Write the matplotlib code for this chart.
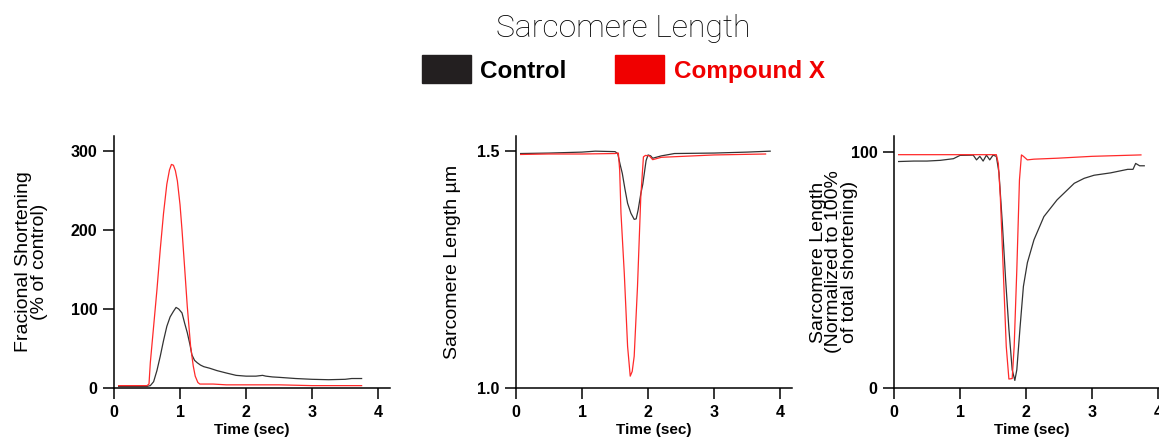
import matplotlib
matplotlib.use("Agg")
import matplotlib.pyplot as plt
from matplotlib.patches import Rectangle

plt.rcParams["font.family"] = ["Liberation Sans", "DejaVu Sans"]

# ───── DATA ─────
# panel 1: fractional shortening (% of control)
fs_ctrl_t = [0.07, 0.3, 0.5, 0.55, 0.6, 0.65, 0.7, 0.75, 0.8, 0.85, 0.9, 0.94, 0.98,
             1.03, 1.07, 1.11, 1.15, 1.18, 1.22, 1.26, 1.31, 1.36, 1.45, 1.56, 1.7,
             1.85, 2.0, 2.15, 2.25, 2.3, 2.4, 2.5, 2.75, 3.0, 3.25, 3.5, 3.6, 3.75]
fs_ctrl_v = [2, 2, 2, 3, 8, 22, 40, 60, 78, 90, 97, 102, 100,
             95, 82, 70, 55, 42, 35, 32, 29, 27, 25, 22, 19,
             16, 15, 15, 16, 15, 14, 13.5, 12, 11, 10.5, 11, 12, 12]
fs_cmpd_t = [0.07, 0.3, 0.5, 0.53, 0.55, 0.6, 0.65, 0.7, 0.75, 0.8, 0.84, 0.87, 0.9,
             0.93, 0.96, 1.0, 1.03, 1.07, 1.11, 1.16, 1.2, 1.23, 1.27, 1.3, 1.5, 1.7,
             2.0, 2.5, 3.0, 3.5, 3.75]
fs_cmpd_v = [3, 3, 3, 5, 32, 78, 124, 175, 221, 258, 276, 283, 282,
             275, 262, 232, 200, 152, 103, 53, 28, 15, 7, 5, 5, 4,
             4, 4, 3, 3, 3]

# panel 2: sarcomere length (um)
sl_ctrl_t = [0.07, 0.5, 1.0, 1.2, 1.5, 1.54, 1.58, 1.61, 1.65, 1.69, 1.74, 1.79, 1.82,
             1.85, 1.89, 1.92, 1.95, 1.97, 2.0, 2.04, 2.07, 2.12, 2.2, 2.4, 3.0, 3.5, 3.85]
sl_ctrl_v = [1.495, 1.496, 1.498, 1.5, 1.499, 1.495, 1.47, 1.453, 1.42, 1.39, 1.369,
             1.356, 1.357, 1.376, 1.41, 1.43, 1.46, 1.48, 1.492, 1.49, 1.485, 1.487,
             1.49, 1.495, 1.496, 1.498, 1.5]
sl_cmpd_t = [0.07, 0.5, 1.0, 1.5, 1.55, 1.57, 1.59, 1.64, 1.69, 1.73, 1.76, 1.79, 1.84,
             1.89, 1.93, 1.96, 2.02, 2.07, 2.2, 3.0, 3.78]
sl_cmpd_v = [1.493, 1.494, 1.494, 1.495, 1.496, 1.46, 1.369, 1.242, 1.088, 1.025, 1.035,
             1.067, 1.214, 1.404, 1.488, 1.491, 1.49, 1.482, 1.487, 1.492, 1.494]

# panel 3: normalized sarcomere length (%)
nl_ctrl_t = [0.07, 0.3, 0.5, 0.7, 0.9, 1.0, 1.2, 1.25, 1.3, 1.35, 1.4, 1.45, 1.5, 1.55,
             1.59, 1.64, 1.69, 1.74, 1.79, 1.83, 1.86, 1.91, 1.96, 2.02, 2.12, 2.27,
             2.47, 2.73, 2.88, 3.03, 3.28, 3.54, 3.62, 3.66, 3.72, 3.79]
nl_ctrl_v = [95.8, 96, 96, 96.3, 97, 98.4, 98.5, 96.5, 98, 96, 98.5, 96.5, 98.5, 98,
             91, 70, 46, 25, 7.7, 3.2, 7.7, 26, 43, 53, 62.7, 72.5,
             79.6, 86.6, 88.7, 90, 91, 92.5, 92.5, 95, 94, 94]
nl_cmpd_t = [0.07, 0.5, 1.0, 1.55, 1.58, 1.61, 1.66, 1.70, 1.74, 1.79, 1.82, 1.86,
             1.90, 1.93, 1.96, 2.02, 2.12, 2.47, 3.0, 3.74]
nl_cmpd_v = [98.7, 98.7, 98.7, 98.7, 95, 81, 46, 17.6, 3.8, 4, 17.6, 50,
             88, 98.6, 98, 96.5, 96.8, 97.2, 98, 98.6]

ylabels = ["Fracional Shortening\n(% of control)",
           "Sarcomere Length \u00b5m",
           "Sarcomere Length\n(Normalized to 100%\nof total shortening)"]
yticks = [[0, 100, 200, 300], [1.0, 1.5], [0, 100]]
yticklabels = [["0", "100", "200", "300"], ["1.0", "1.5"], ["0", "100"]]
ylims = [(0, 319), (1.0, 1.532), (0, 106.6)]

CTRL = "#333333"
CMPD = "#ff2a2a"

W, H = 1159, 440
fig = plt.figure(figsize=(W / 100, H / 100), dpi=100)

lefts = [114, 516, 894]
label_x = [-0.24, -0.20, -0.13]
series = [(fs_ctrl_t, fs_ctrl_v, fs_cmpd_t, fs_cmpd_v),
          (sl_ctrl_t, sl_ctrl_v, sl_cmpd_t, sl_cmpd_v),
          (nl_ctrl_t, nl_ctrl_v, nl_cmpd_t, nl_cmpd_v)]

for i, (ct, cv, mt, mv) in enumerate(series):
    ax = fig.add_axes([lefts[i] / W, 52 / H, 276 / W, 252 / H])
    ax.plot(ct, cv, color=CTRL, lw=0.9)
    ax.plot(mt, mv, color=CMPD, lw=0.9)
    ax.set_xlim(0, 4.18)
    ax.set_ylim(*ylims[i])
    ax.set_xticks([0, 1, 2, 3, 4])
    ax.set_yticks(yticks[i])
    ax.set_yticklabels(yticklabels[i])
    for s in ["top", "right"]:
        ax.spines[s].set_visible(False)
    for s in ["left", "bottom"]:
        ax.spines[s].set_linewidth(1.1)
    ax.tick_params(direction="out", length=8, width=1.1, pad=4, labelsize=11.5)
    for lab in ax.get_xticklabels() + ax.get_yticklabels():
        lab.set_fontweight("bold")
    ax.set_xlabel("Time (sec)", fontsize=11, fontweight="bold")
    ax.xaxis.set_label_coords(0.5, -0.14)
    ax.set_ylabel(ylabels[i], fontsize=14, linespacing=0.9)
    ax.yaxis.set_label_coords(label_x[i], 0.5)

# ───── TITLE + LEGEND ─────
fig.text(623 / W, 1 - 37 / H, "Sarcomere Length", ha="center", va="baseline",
         fontsize=23, family=["Roboto", "DejaVu Sans"], fontweight="light")
fig.patches.append(Rectangle((422 / W, 1 - 83 / H), 49 / W, 28 / H,
                             transform=fig.transFigure, color="#231f20"))
fig.patches.append(Rectangle((615 / W, 1 - 83 / H), 49 / W, 28 / H,
                             transform=fig.transFigure, color="#f00000"))
fig.text(480 / W, 1 - 78 / H, "Control", ha="left", va="baseline",
         fontsize=17.5, fontweight="bold", color="black")
fig.text(674 / W, 1 - 78 / H, "Compound X", ha="left", va="baseline",
         fontsize=17.5, fontweight="bold", color="#f00000")

fig.savefig("out.png", dpi=100)
